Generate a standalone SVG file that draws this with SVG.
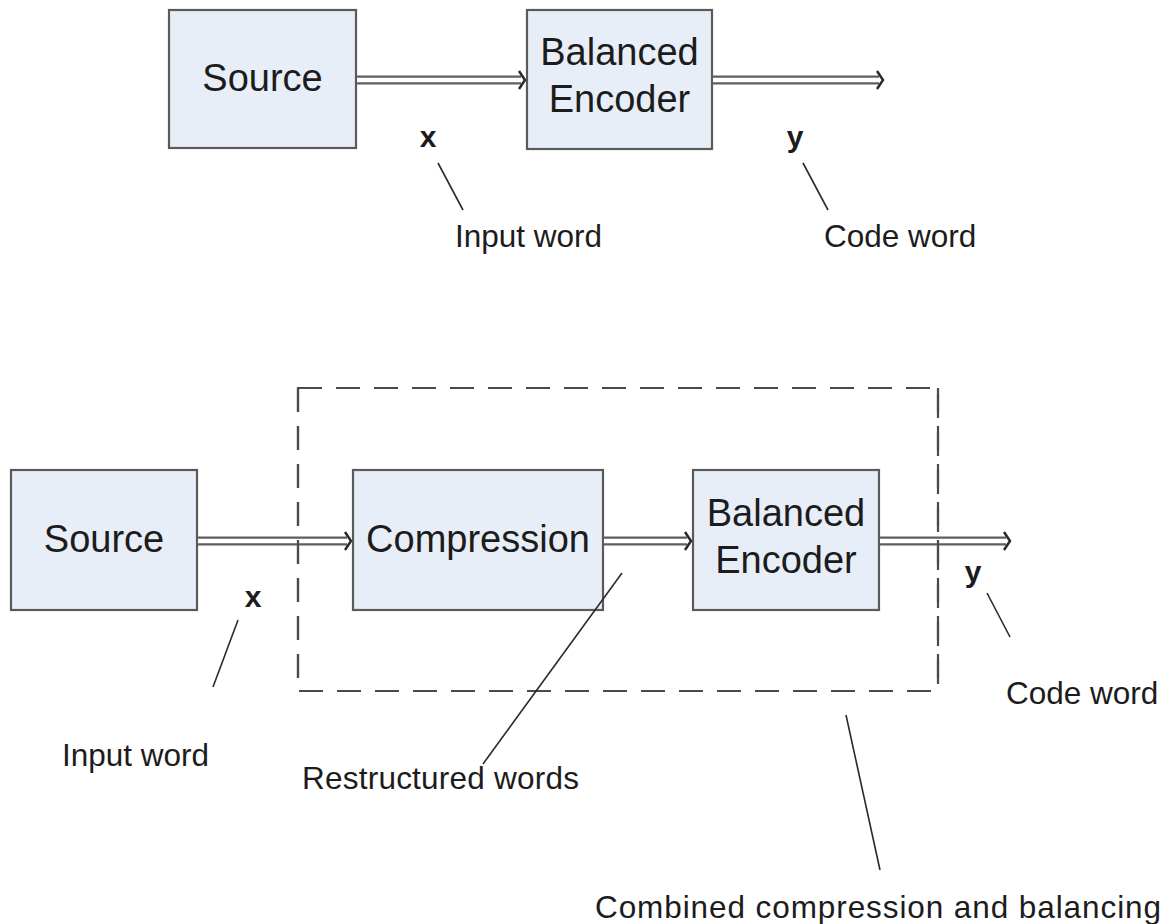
<svg xmlns="http://www.w3.org/2000/svg" width="1175" height="924" viewBox="0 0 1175 924">
  <style>
    .box { fill: #e8eef8; stroke: #5a5a5a; stroke-width: 2.2; }
    .lbl { font-family: "Liberation Sans", Arial, sans-serif; fill: #1c1c1c; }
    .big { font-size: 38px; }
    .small { font-size: 31.5px; }
    .var { font-size: 30px; font-weight: bold; }
    .pipe-outer { stroke: #5e5e5e; stroke-width: 9; fill: none; }
    .pipe-inner { stroke: #ffffff; stroke-width: 4.5; fill: none; }
    .head { stroke: #2a2a2a; stroke-width: 2.5; fill: none; stroke-linejoin: miter; }
    .leader { stroke: #2a2a2a; stroke-width: 1.6; fill: none; }
    .dash { stroke: #4a4a4a; stroke-width: 2.2; fill: none; stroke-dasharray: 24 14; }
  </style>

  <rect width="1175" height="924" fill="#ffffff"/>

  <!-- upper chain -->
  <g id="src1">
    <rect class="box" x="169" y="10" width="187" height="138"/>
    <text class="lbl big" x="262.5" y="91" text-anchor="middle">Source</text>
  </g>
  <g id="enc1">
    <rect class="box" x="527" y="10" width="185" height="139"/>
    <text class="lbl big" x="619.5" y="65" text-anchor="middle">Balanced</text>
    <text class="lbl big" x="619.5" y="112" text-anchor="middle">Encoder</text>
  </g>

  <!-- lower chain -->
  <g id="combined">
    <rect class="dash" x="298" y="388" width="640" height="303"/>
  </g>
  <g id="src2">
    <rect class="box" x="11" y="470" width="186" height="140"/>
    <text class="lbl big" x="104" y="552" text-anchor="middle">Source</text>
  </g>
  <g id="comp">
    <rect class="box" x="353" y="470" width="250" height="140"/>
    <text class="lbl big" x="478" y="552" text-anchor="middle">Compression</text>
  </g>
  <g id="enc2">
    <rect class="box" x="693" y="470" width="186" height="140"/>
    <text class="lbl big" x="786" y="526" text-anchor="middle">Balanced</text>
    <text class="lbl big" x="786" y="573" text-anchor="middle">Encoder</text>
  </g>

  <!-- connectors: double-line arrows -->
  <g id="connectors">
    <g>
      <line class="pipe-outer" x1="357" y1="80" x2="521" y2="80"/>
      <line class="pipe-inner" x1="357" y1="80" x2="523" y2="80"/>
      <polyline class="head" points="519,71 525,80 519,89"/>
    </g>
    <g>
      <line class="pipe-outer" x1="713" y1="80" x2="879" y2="80"/>
      <line class="pipe-inner" x1="713" y1="80" x2="881" y2="80"/>
      <polyline class="head" points="877,71 883,80 877,89"/>
    </g>
    <g>
      <line class="pipe-outer" x1="198" y1="541" x2="347" y2="541"/>
      <line class="pipe-inner" x1="198" y1="541" x2="349" y2="541"/>
      <polyline class="head" points="345,532 351,541 345,550"/>
    </g>
    <g>
      <line class="pipe-outer" x1="604" y1="541" x2="687" y2="541"/>
      <line class="pipe-inner" x1="604" y1="541" x2="689" y2="541"/>
      <polyline class="head" points="685,532 691,541 685,550"/>
    </g>
    <g>
      <line class="pipe-outer" x1="880" y1="541" x2="1006" y2="541"/>
      <line class="pipe-inner" x1="880" y1="541" x2="1008" y2="541"/>
      <polyline class="head" points="1004,532 1010,541 1004,550"/>
    </g>
    <!-- dashed frame sides drawn again over the pipes -->
    <line class="dash" x1="298" y1="388" x2="298" y2="691"/>
    <line class="dash" x1="938" y1="388" x2="938" y2="691"/>

    <!-- leader lines -->
    <line class="leader" x1="438" y1="163" x2="463" y2="210"/>
    <line class="leader" x1="803" y1="163" x2="828" y2="210"/>
    <line class="leader" x1="238" y1="620" x2="213" y2="687"/>
    <line class="leader" x1="987" y1="593" x2="1010" y2="637"/>
    <line class="leader" x1="622" y1="573" x2="483" y2="764"/>
    <line class="leader" x1="846" y1="715" x2="880" y2="870"/>
  </g>

  <!-- annotations -->
  <g id="labels">
    <text class="lbl var" x="428" y="147" text-anchor="middle">x</text>
    <text class="lbl small" x="455" y="247">Input word</text>
    <text class="lbl var" x="795" y="147" text-anchor="middle">y</text>
    <text class="lbl small" x="824" y="247">Code word</text>

    <text class="lbl var" x="253" y="607" text-anchor="middle">x</text>
    <text class="lbl small" x="62" y="766">Input word</text>
    <text class="lbl var" x="973" y="582" text-anchor="middle">y</text>
    <text class="lbl small" x="1006" y="704">Code word</text>
    <text class="lbl small" x="302" y="789" textLength="277">Restructured words</text>
    <text class="lbl small" x="595" y="918" font-size="32" textLength="566">Combined compression and balancing</text>
  </g>
</svg>
